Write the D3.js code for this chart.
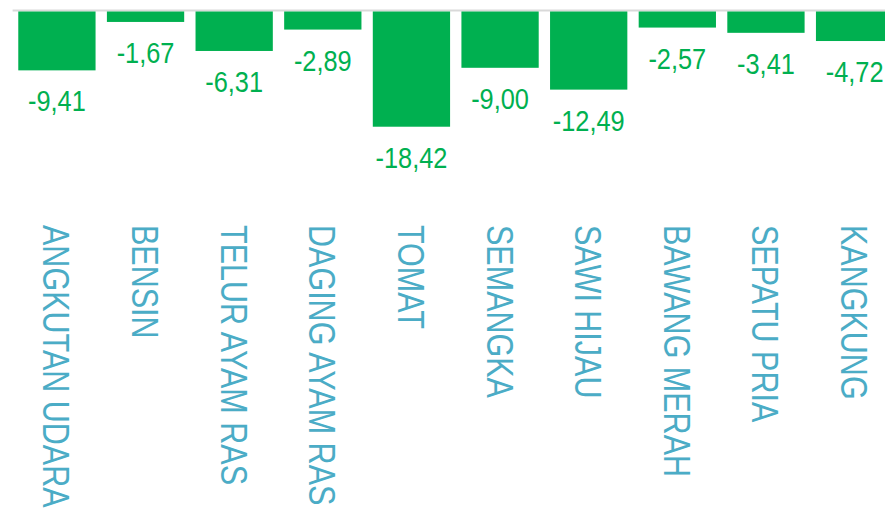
<!DOCTYPE html>
<html>
<head>
<meta charset="utf-8">
<script src="https://cdn.jsdelivr.net/npm/d3@7"></script>
<style>
  html, body { margin: 0; padding: 0; background: #ffffff; overflow: hidden; }
  svg { display: block; }
</style>
</head>
<body>
<svg id="chart" width="885" height="509"></svg>
<script>
const categories = ["ANGKUTAN UDARA", "BENSIN", "TELUR AYAM RAS", "DAGING AYAM RAS", "TOMAT", "SEMANGKA", "SAWI HIJAU", "BAWANG MERAH", "SEPATU PRIA", "KANGKUNG"];
const values = [-9.41, -1.67, -6.31, -2.89, -18.42, -9.00, -12.49, -2.57, -3.41, -4.72];
const yDomain = [0, -20];

const W = 885, H = 509;
const svg = d3.select("#chart");

const x = d3.scaleBand()
  .domain(categories)
  .range([12.6, 898.9])
  .paddingInner(0.128)
  .paddingOuter(0.064);

const y = d3.scaleLinear()
  .domain(yDomain)
  .range([11.5, 11.5 + 125.1]);

const locale = d3.formatLocale({ decimal: ",", thousands: ".", grouping: [3], currency: ["", ""], minus: "-" });
const fmt = locale.format(".2f");

const barColor = "#00b050";
const labelColor = "#00b050";
const catColor = "#4bacc6";

// baseline
svg.append("line")
  .attr("x1", x.range()[0]).attr("x2", W)
  .attr("y1", y(0) - 1).attr("y2", y(0) - 1)
  .attr("stroke", "#d9d9d9").attr("stroke-width", 2);

// bars
svg.append("g").selectAll("rect")
  .data(values)
  .join("rect")
  .attr("x", (d, i) => x(categories[i]))
  .attr("width", x.bandwidth())
  .attr("y", y(0))
  .attr("height", d => y(d) - y(0))
  .attr("fill", barColor);

// value labels
svg.append("g").selectAll("text")
  .data(values)
  .join("text")
  .attr("transform", (d, i) => `translate(${x(categories[i]) + x.bandwidth() / 2},${y(d) + 41}) scale(0.86,1)`)
  .attr("text-anchor", "middle")
  .attr("font-family", "'Liberation Sans', Arial, sans-serif")
  .attr("font-size", 29.5)
  .attr("fill", labelColor)
  .text(d => fmt(d));

// category labels (rotated)
svg.append("g").selectAll("text")
  .data(categories)
  .join("text")
  .attr("transform", d => `translate(${x(d) + x.bandwidth() / 2},225) rotate(90) scale(0.825,1)`)
  .attr("x", 0)
  .attr("y", 13.5)
  .attr("text-anchor", "start")
  .attr("font-family", "'Liberation Sans', Arial, sans-serif")
  .attr("font-size", 37)
  .attr("fill", catColor)
  .text(d => d);
</script>
</body>
</html>
